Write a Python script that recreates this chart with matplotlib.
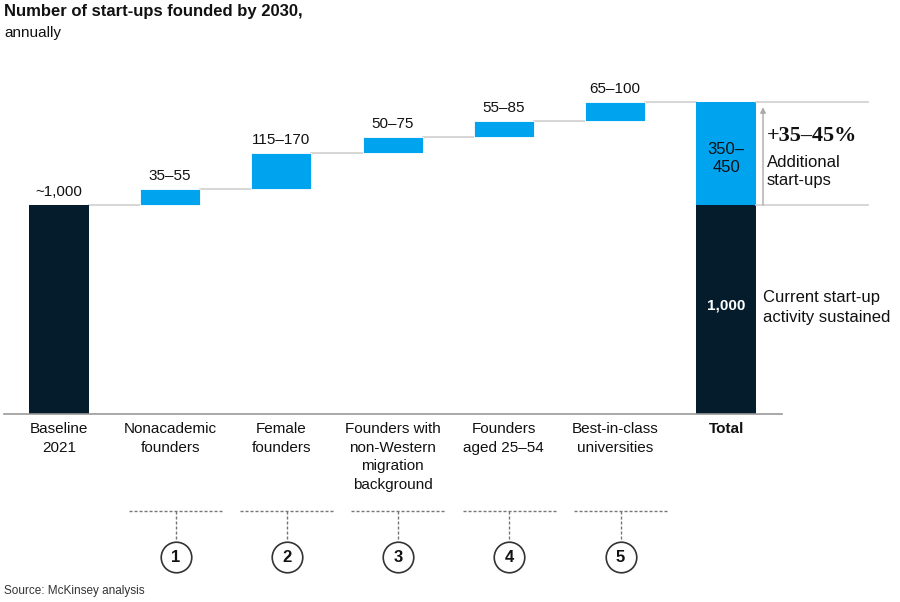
import matplotlib
matplotlib.use("Agg")
import matplotlib.pyplot as plt

plt.rcParams['font.family'] = ['Liberation Sans', 'DejaVu Sans']

# ---- data ----
categories = ["Baseline\n2021", "Nonacademic\nfounders", "Female\nfounders",
              "Founders with\nnon-Western\nmigration\nbackground",
              "Founders\naged 25–54", "Best-in-class\nuniversities", "Total"]
range_labels = ["~1,000", "35–55", "115–170", "50–75", "55–85", "65–100"]
baseline_value = 1000
# drawn increments (chart is schematic; heights)
increments = [77, 172, 76, 77, 91]
total_label_top = "350–\n450"
total_label_bottom = "1,000"
lever_numbers = ["1", "2", "3", "4", "5"]

DARK = "#051c2c"
BLUE = "#00a3ee"
GRID = "#cfcfcf"
LS = 1.43

fig = plt.figure(figsize=(9, 6.02), dpi=100)
ax = fig.add_axes([0, 0, 1, 1])
ax.set_xlim(-59 / 111.2, (900 - 59) / 111.2)
ax.set_ylim(-188 / 0.209, 414 / 0.209)
ax.axis('off')


def py(pix):
    """pixel row -> data y"""
    return (414 - pix) / 0.209


def px(pix):
    """pixel column -> data x"""
    return (pix - 59) / 111.2


bw = 0.54
n = len(categories)
x = list(range(n))

# baseline bar
ax.bar(x[0], baseline_value, width=bw, color=DARK, zorder=2)
ax.text(x[0], baseline_value + 43, range_labels[0], ha='center', va='baseline', fontsize=11, color='#111')

# increment bars
cum = baseline_value
for i, inc in enumerate(increments):
    xi = x[i + 1]
    ax.bar(xi, inc, bottom=cum, width=bw, color=BLUE, edgecolor='white', linewidth=0.6, zorder=2)
    ax.plot([x[i] + bw / 2, xi - bw / 2], [cum, cum], color=GRID, lw=1.2, zorder=1)
    cum += inc
    ax.text(xi, cum + 43, range_labels[i + 1], ha='center', va='baseline', fontsize=11, color='#111')

# total bar
xt = x[-1]
ax.bar(xt, baseline_value, width=bw, color=DARK, zorder=2)
ax.bar(xt, cum - baseline_value, bottom=baseline_value, width=bw, color=BLUE, zorder=2)
ax.plot([x[-2] + bw / 2, xt - bw / 2], [cum, cum], color=GRID, lw=1.2, zorder=1)
ax.text(xt, py(158.5), total_label_top, ha='center', va='center',
        fontsize=12, color='#111', linespacing=1.3)
ax.text(xt, py(306), total_label_bottom, ha='center', va='center',
        fontsize=11, color='white', fontweight='bold')

# right-side reference lines and arrow
xr_end = px(868)
ax.plot([xt + bw / 2, xr_end], [cum, cum], color=GRID, lw=1.2)
ax.plot([xt + bw / 2, xr_end], [baseline_value, baseline_value], color=GRID, lw=1.2)
xa = px(763)
ax.annotate("", xy=(xa, cum - 25), xytext=(xa, baseline_value),
            arrowprops=dict(arrowstyle='-|>', color='#aaaaaa', lw=1.0,
                            mutation_scale=8, shrinkA=0, shrinkB=0))
xtext = px(767)
ax.text(xtext, py(141), "+35–45%", ha='left', va='baseline', fontsize=16,
        fontweight='bold', family=['Liberation Serif', 'DejaVu Serif'], color='#111')
ax.text(xtext, py(167), "Additional", ha='left', va='baseline', fontsize=12, color='#111')
ax.text(xtext, py(185), "start-ups", ha='left', va='baseline', fontsize=12, color='#111')
ax.text(px(763), py(302), "Current start-up", ha='left', va='baseline', fontsize=12, color='#111')
ax.text(px(763), py(322), "activity sustained", ha='left', va='baseline', fontsize=12, color='#111')

# axis line
ax.plot([px(4), px(782)], [0, 0], color='#9a9a9a', lw=1.2, zorder=3)

# category labels
for i, lab in enumerate(categories):
    ax.text(x[i], py(422), lab, ha='center', va='top', fontsize=11, color='#111',
            linespacing=LS, fontweight='bold' if lab == "Total" else 'normal')

# lever brackets and circles
y_h = py(511)
y_c = py(557)
y_v_end = py(541)
for i, num in enumerate(lever_numbers):
    xc = x[i + 1] + 0.05
    ax.plot([xc - 0.42, xc + 0.42], [y_h, y_h], color='#777777', lw=1.0, ls=(0, (2.2, 1.4)))
    ax.plot([xc, xc], [y_h, y_v_end], color='#777777', lw=1.0, ls=(0, (2.2, 1.4)))
    ax.plot([xc], [y_c], marker='o', markersize=22, mfc='white', mec='#333333', mew=1.2, zorder=4)
    ax.text(xc, y_c, num, ha='center', va='center', fontsize=12, fontweight='bold', color='#111', zorder=5)

# title & source
fig.text(4 / 900, 1 - 4 / 602, "Number of start-ups founded by 2030,", ha='left', va='top',
         fontsize=12, fontweight='bold', color='#111')
fig.text(4 / 900, 1 - 26 / 602, "annually", ha='left', va='top', fontsize=11, color='#111')
fig.text(4 / 900, 1 - 591 / 602, "Source: McKinsey analysis", ha='left', va='center',
         fontsize=8.5, color='#333')

fig.savefig("out.png", dpi=100)
